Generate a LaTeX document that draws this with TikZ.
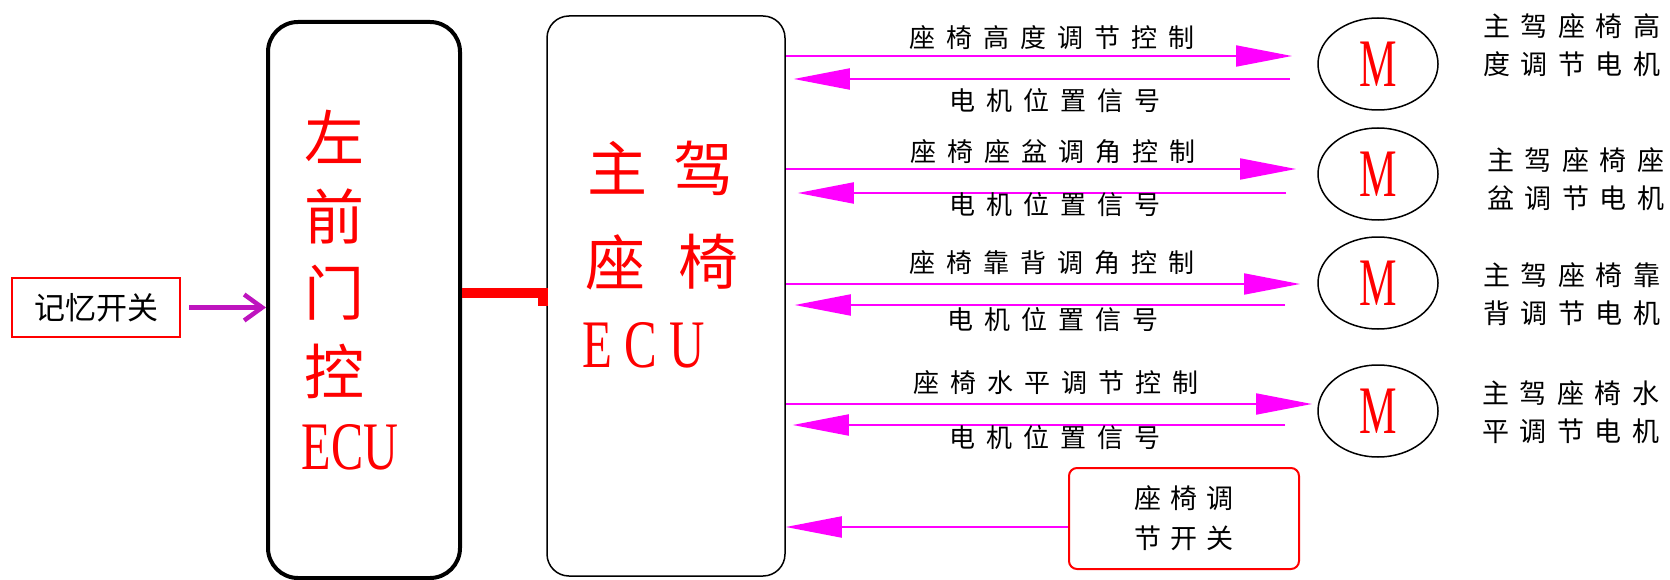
\documentclass[tikz,border=0pt]{standalone}
\usepackage{fontspec}
\usepackage{graphicx}
\usetikzlibrary{arrows.meta, shapes.geometric, positioning}
\setmainfont{Liberation Serif}
\newfontfamily\cjk{Noto Sans CJK SC}

\definecolor{sigpink}{RGB}{255,0,255}
\definecolor{mempurple}{RGB}{190,20,190}

% spread the letters of a word
\newcommand\spread[2]{\def\spreadgap{#1}\spreadA#2\relax}
\def\spreadA#1{\ifx#1\relax\else#1\expandafter\spreadB\fi}
\def\spreadB#1{\ifx#1\relax\else\hspace{\spreadgap}#1\expandafter\spreadB\fi}
\newcommand\mtxt{\scalebox{0.62}[1]{\rmfamily\fontsize{68}{68}\selectfont M}}

\begin{document}
\begin{tikzpicture}[x=1pt, y=-1pt, font=\cjk,
	sig/.style={draw=sigpink, line width=2pt, -{Triangle[length=56pt,width=21pt]}},
	memline/.style={draw=mempurple, line width=4.5pt, shorten <=8pt, -{Straight Barb[length=18pt,width=26pt]}},
	lbl/.style={inner sep=0pt, font=\cjk\fontsize{26}{26}\selectfont},
	motorlbl/.style={inner sep=0pt, anchor=west, align=left, font=\cjk\fontsize{27}{38}\selectfont},
	motor/.style={draw, ellipse, line width=1.5pt, minimum width=120pt, minimum height=92pt, inner sep=0pt, text=red},
	bigred/.style={inner sep=0pt, text=red, font=\cjk\fontsize{60}{60}\selectfont},
	ecutxt/.style={inner sep=0pt, text=red, font=\rmfamily\fontsize{68}{68}\selectfont}]

	\useasboundingbox (0,0) rectangle (1670,580);

	% memory switch and door ECU
	\node[draw=red, line width=2.5pt, minimum width=168pt, minimum height=59pt, font=\cjk\fontsize{31}{31}\selectfont] (mem) at (96,307.5) {记忆开关};
	\node[draw, line width=4pt, rounded corners=30pt, minimum width=192pt, minimum height=556pt] (leftecu) at (364,300) {};
	\node[bigred] (lt1) at (334,137) {左};
	\node[bigred] (lt2) at (334,216) {前};
	\node[bigred] (lt3) at (334,293) {门};
	\node[bigred] (lt4) at (334,371) {控};
	\node[ecutxt] (lt5) at (350,447) {\scalebox{0.71}[1]{ECU}};
	\draw[memline] (mem.east) -- (mem.east -| leftecu.west);

	% seat ECU
	\node[draw, line width=1.5pt, rounded corners=22pt, minimum width=238pt, minimum height=560pt] (mainecu) at (666,296) {};
	\node[bigred] (mt1) at (617,168) {主};
	\node[bigred] (mt2) at (703,168) {驾};
	\node[bigred] (mt3) at (615,262) {座};
	\node[bigred] (mt4) at (708,262) {椅};
	\node[ecutxt] (mt5) at (644,345) {\scalebox{0.72}[1]{\spread{17pt}{ECU}}};

	% bus between the two ECUs
	\coordinate (bend) at (543,293);
	\coordinate (bendend) at (543,306);
	\draw[red, line width=10pt] (leftecu.east |- bend) -- (bend) -- (bendend);

	% height motor
	\node[motor] (m1) at (1378,64) {\mtxt};
	\coordinate (c1) at (1292,56);
	\coordinate (r1) at (1290,79);
	\draw[sig] (mainecu.east |- c1) -- (c1);
	\draw[sig, shorten >=8pt] (r1) -- (mainecu.east |- r1);
	\node[lbl] (a1) at (1052,38) {\spread{11pt}{座椅高度调节控制}};
	\node[lbl] (b1) at (1055,101) {\spread{11pt}{电机位置信号}};
	\node[motorlbl] (n1) at (1483,45) {\spread{10.5pt}{主驾座椅高}\\\spread{10.5pt}{度调节电机}};

	% cushion motor
	\node[motor] (m2) at (1378,174) {\mtxt};
	\coordinate (c2) at (1296,169);
	\coordinate (r2) at (1286,193);
	\draw[sig] (mainecu.east |- c2) -- (c2);
	\draw[sig, shorten >=12pt] (r2) -- (mainecu.east |- r2);
	\node[lbl] (a2) at (1053,152) {\spread{11pt}{座椅座盆调角控制}};
	\node[lbl] (b2) at (1055,205) {\spread{11pt}{电机位置信号}};
	\node[motorlbl] (n2) at (1487,179) {\spread{10.5pt}{主驾座椅座}\\\spread{10.5pt}{盆调节电机}};

	% backrest motor
	\node[motor] (m3) at (1378,283) {\mtxt};
	\coordinate (c3) at (1300,284);
	\coordinate (r3) at (1285,305);
	\draw[sig] (mainecu.east |- c3) -- (c3);
	\draw[sig, shorten >=9pt] (r3) -- (mainecu.east |- r3);
	\node[lbl] (a3) at (1052,263) {\spread{11pt}{座椅靠背调角控制}};
	\node[lbl] (b3) at (1053,320) {\spread{11pt}{电机位置信号}};
	\node[motorlbl] (n3) at (1483,294) {\spread{10.5pt}{主驾座椅靠}\\\spread{10.5pt}{背调节电机}};

	% slide motor
	\node[motor] (m4) at (1378,411) {\mtxt};
	\coordinate (c4) at (1312,404);
	\coordinate (r4) at (1285,425);
	\draw[sig] (mainecu.east |- c4) -- (c4);
	\draw[sig, shorten >=7pt] (r4) -- (mainecu.east |- r4);
	\node[lbl] (a4) at (1056,383) {\spread{11pt}{座椅水平调节控制}};
	\node[lbl] (b4) at (1055,438) {\spread{11pt}{电机位置信号}};
	\node[motorlbl] (n4) at (1482,412) {\spread{10.5pt}{主驾座椅水}\\\spread{10.5pt}{平调节电机}};

	% seat switch
	\node[draw=red, line width=2pt, rounded corners=8pt, minimum width=230pt, minimum height=101pt, align=center, font=\cjk\fontsize{27}{40}\selectfont] (sw) at (1184,518.5) {\spread{9.5pt}{座椅调}\\\spread{9.5pt}{节开关}};
	\draw[sig] ([yshift=-8.5pt]sw.west) -- ([yshift=-8.5pt]sw.west -| mainecu.east);

\end{tikzpicture}
\end{document}
